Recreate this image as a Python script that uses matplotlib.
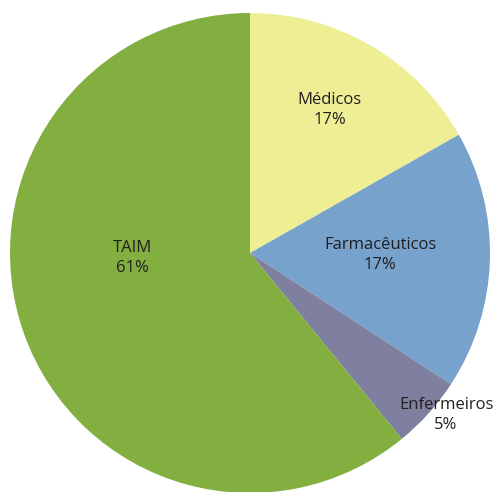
import matplotlib
matplotlib.use("Agg")
import matplotlib.pyplot as plt

categories = ["Médicos", "Farmacêuticos", "Enfermeiros", "TAIM"]
shares = [16.8, 17.4, 4.9, 60.9]
colors = ["#EEEE94", "#77A2CC", "#7F7FA0", "#82AF40"]
# label anchor points in pie (data) coordinates
label_pos = [(0.333, 0.596), (0.542, -0.008), (0.817, -0.675), (-0.488, -0.021)]

plt.rcParams["font.family"] = ["Open Sans", "DejaVu Sans"]

fig = plt.figure(figsize=(5.02, 4.92), dpi=100)
ax = fig.add_axes([10 / 502, (492 - 493) / 492, 480 / 502, 480 / 492])
ax.pie(shares, colors=colors, startangle=90, counterclock=False, radius=1.0,
       wedgeprops={"linewidth": 0, "edgecolor": "none"})
ax.set_xlim(-1, 1)
ax.set_ylim(-1, 1)
ax.set_aspect("equal")
ax.axis("off")

for name, val, (x, y) in zip(categories, shares, label_pos):
    ax.text(x, y, f"{name}\n{round(val):.0f}%", ha="center", va="center",
            fontsize=12, color="#231F20", linespacing=1.3)

fig.savefig("out.png", dpi=100)
